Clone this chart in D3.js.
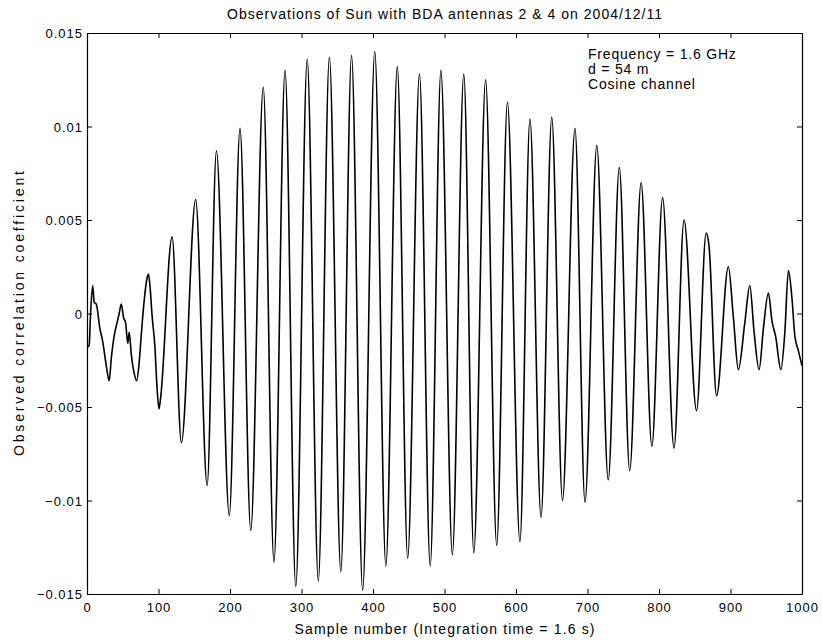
<!DOCTYPE html>
<meta charset="utf-8">
<head>
	<style type="text/css">
		body { margin: 0; background: #fff; }
		text { font-family: "Liberation Sans", Arial, Helvetica, sans-serif; fill: #000; }
		.tick-label { font-size: 13px; letter-spacing: 1px; }
	</style>
	<title>Observations of Sun with BDA antennas 2 &amp; 4</title>
</head>

<script src="https://cdn.jsdelivr.net/npm/d3@7"></script>

<svg width="822" height="644" id="svg1"></svg>

<script>
	// values: sample number and correlation coefficient at
	// the visible turning points (plus a few points in the noisy ends)
	const sampleX = [
		0, 3, 5, 8, 10, 13, 18, 22, 27, 31, 34, 38, 42, 45, 48, 51, 54, 57, 59, 62,
		66, 69.5, 73, 76, 80, 84, 86, 88, 91, 95, 98, 100.7, 103,
		119, 132, 152, 168, 181, 199, 214, 229, 246.5, 261.5, 277, 292, 308, 323.5,
		339, 355, 370, 385.5, 402.5, 418, 434, 448.5, 465, 480, 495, 511, 527, 541,
		557.5, 573, 588, 605.5, 619.5, 635, 650, 665, 682.5, 696.5, 713, 729, 744.5,
		759, 775, 790, 805, 821, 835, 852.5, 866, 870, 880.5, 897, 904, 911, 920, 927,
		933, 940, 946, 953, 958, 963, 970.5, 976, 981, 986, 990, 995, 1000
	];
	const corrY = [
		-0.0018, -0.0017, 0.0000, 0.0015, 0.0006, 0.0005, -0.0008, -0.0015, -0.0028, -0.0036,
		-0.0024, -0.0012, -0.0005, 0.0000, 0.0005, -0.0002, -0.0005, -0.0016, -0.0010, -0.0022,
		-0.0032, -0.0036, -0.0026, -0.0011, 0.0007, 0.0019, 0.0021, 0.0015, -0.0001, -0.0018,
		-0.0040, -0.0051, -0.0045,
		0.0041, -0.0069, 0.0061, -0.0092, 0.0087, -0.0108, 0.0099, -0.0116, 0.0121, -0.0133,
		0.0130, -0.0146, 0.0136, -0.0143,
		0.0137, -0.0138, 0.0138, -0.0148, 0.0140, -0.0135, 0.0132, -0.0131, 0.0128, -0.0135,
		0.0130, -0.0129, 0.0128, -0.0128,
		0.0125, -0.0124, 0.0113, -0.0122, 0.0104, -0.0109, 0.0105, -0.0100, 0.0099, -0.0101,
		0.0090, -0.0089, 0.0078,
		-0.0084, 0.0070, -0.0071, 0.0062, -0.0072, 0.0050, -0.0052, 0.0043, 0.0036, -0.0044,
		0.0025, -0.0002, -0.0030, -0.0005, 0.0015, -0.0010, -0.0030, -0.0008, 0.0011, -0.0004,
		-0.0012, -0.0030, -0.0010, 0.0023, 0.0008, -0.0012, -0.0020, -0.0028
	];

	const xTicks = [0, 100, 200, 300, 400, 500, 600, 700, 800, 900, 1000];
	const yTicks = [-0.015, -0.01, -0.005, 0, 0.005, 0.01, 0.015];
	const yTickLabels = ['\u22120.015', '\u22120.01', '\u22120.005', '0', '0.005', '0.01', '0.015'];

	const titleText = 'Observations of Sun with BDA antennas 2 & 4 on 2004/12/11';
	const xLabel = 'Sample number (Integration time = 1.6 s)';
	const yLabel = 'Observed correlation coefficient';
	const notes = ['Frequency = 1.6 GHz', 'd = 54 m', 'Cosine channel'];

	const svg1 = d3.select('#svg1');
	const plotL = 87, plotR = 802, plotT = 33, plotB = 594;

	const x = d3.scaleLinear().domain([0, 1000]).range([plotL, plotR]);
	const y = d3.scaleLinear().domain([-0.015, 0.015]).range([plotB, plotT]);

	const points = sampleX.map((s, i) => [s, corrY[i]]);

	// the trace
	const line = d3.line()
		.x(d => x(d[0]))
		.y(d => y(d[1]))
		.curve(d3.curveMonotoneX);

	svg1.append('path')
		.datum(points)
		.attr('fill', 'none')
		.attr('stroke', '#000')
		.attr('stroke-width', 1.6)
		.attr('d', line);

	// box with inward ticks on all four sides (matlab style)
	const tickLen = 5;
	const axisBottom = d3.axisBottom(x).tickValues(xTicks).tickSizeInner(-tickLen).tickSizeOuter(0).tickFormat(d3.format('d'));
	const axisTop = d3.axisTop(x).tickValues(xTicks).tickSizeInner(-tickLen).tickSizeOuter(0).tickFormat('');
	const axisLeft = d3.axisLeft(y).tickValues(yTicks).tickSizeInner(-tickLen).tickSizeOuter(0)
		.tickFormat((d, i) => yTickLabels[i]);
	const axisRight = d3.axisRight(y).tickValues(yTicks).tickSizeInner(-tickLen).tickSizeOuter(0).tickFormat('');

	const styleAxis = g => {
		g.selectAll('.domain').attr('stroke', '#000').attr('stroke-width', 1.2);
		g.selectAll('.tick line').attr('stroke', '#000').attr('stroke-width', 1);
		g.selectAll('.tick text').attr('class', 'tick-label').attr('fill', '#000');
		g.attr('font-family', null).attr('font-size', null);
	};

	svg1.append('g').attr('transform', `translate(0,${plotB})`).call(axisBottom).call(styleAxis)
		.selectAll('.tick text').attr('y', 9).attr('dy', '0.71em');
	svg1.append('g').attr('transform', `translate(0,${plotT})`).call(axisTop).call(styleAxis);
	svg1.append('g').attr('transform', `translate(${plotL},0)`).call(axisLeft).call(styleAxis)
		.selectAll('.tick text').attr('x', -4).attr('dy', '0.35em');
	svg1.append('g').attr('transform', `translate(${plotR},0)`).call(axisRight).call(styleAxis);

	// texts
	svg1.append('text')
		.attr('x', (plotL + plotR) / 2)
		.attr('y', 19)
		.attr('text-anchor', 'middle')
		.attr('font-size', '14px')
		.attr('textLength', 435)
		.attr('lengthAdjust', 'spacing')
		.text(titleText);

	svg1.append('text')
		.attr('x', (plotL + plotR) / 2)
		.attr('y', 634)
		.attr('text-anchor', 'middle')
		.attr('font-size', '14px')
		.attr('textLength', 300)
		.attr('lengthAdjust', 'spacing')
		.text(xLabel);

	svg1.append('text')
		.attr('transform', `translate(24,${(plotT + plotB) / 2}) rotate(-90)`)
		.attr('text-anchor', 'middle')
		.attr('font-size', '14px')
		.attr('textLength', 285)
		.attr('lengthAdjust', 'spacing')
		.text(yLabel);

	svg1.append('g')
		.selectAll('text')
		.data(notes)
		.enter()
			.append('text')
				.attr('x', 588)
				.attr('y', (d, i) => 59 + i * 15)
				.attr('font-size', '14px')
				.attr('letter-spacing', '0.8px')
				.text(d => d);
</script>
